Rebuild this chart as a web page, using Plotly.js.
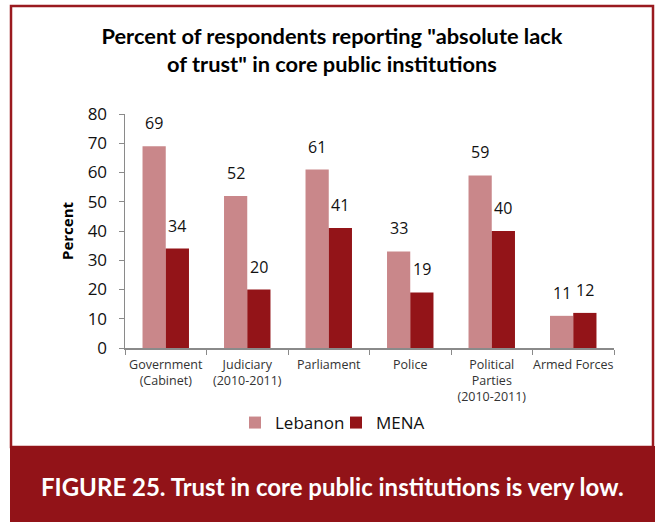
<!DOCTYPE html>
<html>
<head>
<meta charset="utf-8">
<script src="https://cdn.plot.ly/plotly-3.0.1.min.js"></script>
<style>html,body{margin:0;padding:0;background:#fff;}#chart{width:655px;height:522px;}</style>
</head>
<body>
<div id="chart"></div>
<script>
const categories = ["Government<br>(Cabinet)", "Judiciary<br>(2010-2011)", "Parliament", "Police", "Political<br>Parties<br>(2010-2011)", "Armed Forces"];
const lebanon = [69, 52, 61, 33, 59, 11];
const mena = [34, 20, 41, 19, 40, 12];
const seriesNames = ["Lebanon", "MENA"];
const yTicks = [0, 10, 20, 30, 40, 50, 60, 70, 80];
const chartTitle = 'Percent of respondents reporting "absolute lack<br>of trust" in core public institutions';
const yTitle = "Percent";
const caption = "FIGURE 25. Trust in core public institutions is very low.";

const colLeb = "#C9878A";
const colMena = "#931418";
const dark = "#9A1A1F";

// pixel → paper helpers (plot area: x 125..614, y 114..348)
const L = 125, R = 614, T = 114, B = 348;
const px = v => (v - L) / (R - L);
const py = v => (B - v) / (B - T);

const labelFont = {family: "Open Sans, Noto Sans, sans-serif", size: 16, color: "#111"};
const annotations = [];
categories.forEach((c, i) => {
  annotations.push({x: c, y: lebanon[i], xref: "x", yref: "y", text: String(lebanon[i]), showarrow: false,
    xshift: -11.7, yshift: 23, font: labelFont});
  annotations.push({x: c, y: mena[i], xref: "x", yref: "y", text: String(mena[i]), showarrow: false,
    xshift: 11.7, yshift: 23, font: labelFont});
});
annotations.push({x: px(332), y: py(486), xref: "paper", yref: "paper", text: "<b>" + caption + "</b>",
  showarrow: false, xanchor: "center", yanchor: "middle",
  font: {family: "Lato, sans-serif", size: 24, color: "#fff"}});

const traces = [
  {type: "bar", name: seriesNames[0], x: categories, y: lebanon, marker: {color: colLeb}, hoverinfo: "y", legend: "legend"},
  {type: "bar", name: seriesNames[1], x: categories, y: mena, marker: {color: colMena}, hoverinfo: "y", legend: "legend2"}
];

const legFont = {family: "Open Sans, Noto Sans, sans-serif", size: 17, color: "#111"};
const layout = {
  width: 655, height: 522,
  margin: {l: L, r: 655 - R, t: T, b: 522 - B, pad: 0},
  paper_bgcolor: "#fff", plot_bgcolor: "#fff",
  barmode: "group", bargap: 0.43, bargroupgap: 0,
  title: {text: "<b>" + chartTitle + "</b>", x: 332 / 655, xanchor: "center", xref: "container",
    y: 1 - 44 / 522, yanchor: "middle", yref: "container",
    font: {family: "Lato, sans-serif", size: 21.8, color: "#000"}},
  xaxis: {type: "category", showline: true, linecolor: "#8a8a8a", linewidth: 1.5, ticks: "outside",
    tickson: "boundaries", ticklen: 5, tickcolor: "#8a8a8a", showgrid: false, tickangle: 0,
    ticklabelstandoff: 4,
    tickfont: {family: "Open Sans, Noto Sans, sans-serif", size: 12.5, color: "#333"}},
  yaxis: {range: [0, 80], tickvals: yTicks, showline: true, linecolor: "#8a8a8a", linewidth: 1.5,
    ticks: "outside", ticklen: 5, tickcolor: "#8a8a8a", showgrid: false, zeroline: false,
    ticklabelstandoff: 8,
    tickfont: {family: "Open Sans, Noto Sans, sans-serif", size: 17, color: "#111"},
    title: {text: "<b>" + yTitle + "</b>", standoff: 10,
      font: {family: "Open Sans, Noto Sans, sans-serif", size: 15, color: "#000"}}},
  showlegend: true,
  legend: {orientation: "h", x: px(235), xanchor: "left", y: py(423), yanchor: "middle",
    font: legFont, itemwidth: 30, bgcolor: "rgba(0,0,0,0)"},
  legend2: {orientation: "h", x: px(336), xanchor: "left", y: py(423), yanchor: "middle",
    font: legFont, itemwidth: 30, bgcolor: "rgba(0,0,0,0)"},
  shapes: [
    {type: "rect", xref: "paper", yref: "paper", x0: px(11), x1: px(653), y0: py(447), y1: py(6),
      line: {color: dark, width: 2.5}, fillcolor: "rgba(0,0,0,0)", layer: "below"},
    {type: "rect", xref: "paper", yref: "paper", x0: px(10), x1: px(655), y0: py(446), y1: py(523),
      line: {width: 0}, fillcolor: "#921318", layer: "below"}
  ],
  annotations: annotations
};

Plotly.newPlot("chart", traces, layout, {displayModeBar: false, staticPlot: true});
</script>
</body>
</html>
